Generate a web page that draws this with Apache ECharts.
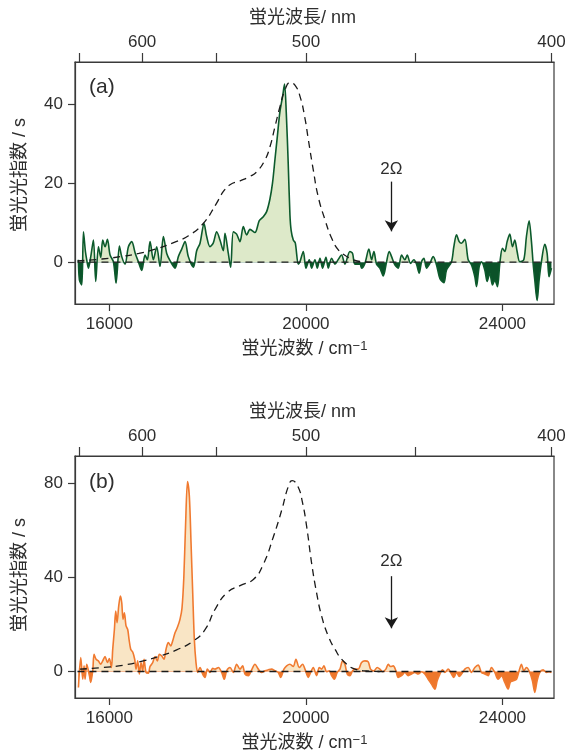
<!DOCTYPE html>
<html>
<head>
<meta charset="utf-8">
<script src="https://cdn.jsdelivr.net/npm/echarts@6/dist/echarts.min.js"></script>
<style>
html,body{margin:0;padding:0;background:#fff;}
#chart{width:574px;height:753px;}
</style>
</head>
<body>
<div id="chart"></div>
<script>
// ---------- data ----------
// Panel (a): wavenumber (cm^-1) and signal (s)
const A_WN = [15370,15390,15438,15472,15512,15539,15573,15621,15675,15722,15777,15824,15865,15912,15960,16014,16082,16136,16204,16251,16319,16387,16455,16523,16590,16658,16726,16773,16828,16895,16963,17031,17099,17167,17234,17336,17404,17472,17540,17607,17709,17777,17845,17926,17980,18048,18116,18184,18251,18319,18353,18421,18468,18523,18590,18658,18726,18794,18862,18963,19051,19133,19201,19268,19320,19370,19420,19470,19526,19565,19600,19640,19675,19700,19743,19784,19845,
19879,19947,20001,20069,20116,20184,20232,20286,20340,20408,20455,20523,20591,20659,20726,20794,20896,20950,20998,21100,21133,21201,21282,21337,21384,21438,21506,21574,21642,21696,21744,21811,21879,21947,22015,22062,22130,22198,22252,22306,22354,22401,22455,22523,22591,22659,22727,22808,22862,22964,23011,23066,23120,23167,23235,23303,23371,23439,23472,23527,23574,23642,23689,23743,23798,23845,23899,23947,24001,24049,24096,24150,24205,24252,24299,24354,24435,24489,24543,24591,24625,24659,24706,24747,24794,24862,24910,24950,24998];
const A_CNT = [0.6,-4.5,-5.8,7.7,2.7,0.6,-1.5,1.4,5.6,-4.9,3.9,1.2,5.6,3.9,5.8,1.8,0.1,-5.3,4.1,1.4,-0.5,3.9,5.2,2.4,0.1,-2.1,1.8,0.6,5.2,0.6,3.9,-1.1,6.5,2.2,0.4,-1.5,1.4,3.3,5.2,1.4,-1.3,2.9,4.8,9.8,6.5,3.9,4.9,7.7,5.6,2.9,7.3,2.2,-1.3,7.7,7.1,5.2,9.0,6.9,8.3,7.5,10.5,11.5,12.8,16.0,20.0,26.0,32.0,38.0,42.0,45.1,38.0,25.0,12.0,8.0,5.6,4.9,-0.5,
0.1,2.7,-1.5,0.6,-1.5,0.6,-1.5,1.0,-1.5,1.2,-1.5,1.0,-0.5,0.7,1.8,-0.5,2.7,2.2,-0.5,-0.5,-1.5,-0.3,3.3,0.6,2.7,-0.5,-1.5,-3.5,0.1,2.7,1.4,-0.7,-1.5,1.8,0.6,1.8,-0.3,0.6,-0.5,-2.8,0.1,1.0,-1.5,-0.3,1.4,-0.7,-4.1,-5.2,-2.0,0.1,3.9,6.9,5.2,4.8,5.8,0.6,-0.7,-3.7,-6.2,-1.1,0.1,-2.0,-4.9,-2.8,-5.8,-4.5,-6.2,-0.3,3.5,2.7,5.2,7.1,3.9,5.6,2.7,0.1,0.6,6.5,10.5,5.2,-0.3,-4.5,-9.7,-4.5,0.1,4.5,2.2,-3.7,-1.5];
// Panel (a): reference spectrum (dashed)
const A_REF_WN = [15350,15850,16230,16600,16960,17320,17610,17910,18180,18320,18455,18660,18860,19000,19167,19270,19370,19472,19574,19680,19780,19880,19980,20050,20150,20250,20390,20520,20660,20800,20960,21170,21400];
const A_REF = [0.3,0.8,1.4,2.2,3.4,5.0,6.7,9.8,14.9,17.9,19.6,20.6,21.7,22.9,25.9,29.3,34.3,39.4,43.6,45.5,44.8,42.0,36.5,31.0,23.4,16.6,10.7,6.2,3.1,1.7,0.6,0.1,0];

// Panel (b)
const B_WN = [15370,15417,15458,15485,15505,15539,15593,15620,15661,15688,15729,15776,15824,15864,15912,15959,16000,16041,16068,16102,16129,16156,16190,16224,16251,16278,16305,16339,16373,16400,16434,16475,16515,16542,16576,16610,16644,16678,16705,16746,16793,16827,16881,16929,16976,17017,17065,17112,17153,17200,17248,17288,17336,17383,17437,17478,17515,17550,17590,17628,17662,17696,17729,17763,17797,17845,17899,17946,17994,18048,18102,18150,18218,18285,18339,18387,18455,18523,18590,18658,18712,18760,18828,18895,18963,19031,19099,19167,19235,19302,19370,19438,19485,19553,19608,19675,19743,19797,19865,
19933,19981,20049,20096,20150,20218,20272,20320,20367,20421,20476,20523,20577,20638,20693,20747,20794,20842,20896,20950,20998,21066,21133,21201,21269,21316,21384,21452,21506,21560,21628,21676,21723,21777,21832,21879,21947,22015,22083,22150,22218,22286,22354,22421,22489,22557,22625,22672,22727,22781,22828,22896,22964,23011,23066,23120,23167,23235,23303,23371,23439,23506,23574,23642,23710,23777,23845,23913,23981,24049,24116,24164,24218,24286,24340,24388,24435,24489,24557,24611,24659,24706,24760,24828,24896,24950,24998];
const B_CNT = [-6.8,5.9,-3.3,2.4,-3.3,3.1,-1.8,-4.7,0.3,7.3,5.2,4.5,3.1,4.5,6.4,3.8,5.5,1.7,9.5,17.9,25.7,20.8,27.9,32.1,29.3,22.2,25.0,19.4,17.9,13.7,9.5,8.3,5.2,1.0,4.5,-1.1,3.8,0.3,5.2,-0.4,-0.7,2.1,3.8,6.4,4.5,7.3,6.6,5.2,9.5,12.3,10.9,13.0,16.5,18.7,22.2,27.0,40.0,62.0,80.9,74.5,54.7,33.5,13.7,3.8,-0.4,1.7,-1.1,-2.5,1.0,-0.4,1.3,1.0,1.7,-0.4,-3.3,0.3,1.7,-0.4,3.1,1.0,2.4,-1.1,-1.8,0.7,3.1,1.0,-0.4,0.3,0.7,1.0,0.3,-0.4,-2.5,1.0,2.4,3.1,2.1,5.2,1.7,
3.1,1.0,-2.5,-0.4,1.7,-1.8,1.7,1.0,2.4,-0.1,0.3,-1.8,-3.3,-0.4,1.0,4.5,3.1,-1.1,-1.8,0.3,1.0,1.0,3.8,4.5,4.1,1.0,0.3,1.7,1.0,-0.1,1.0,3.1,2.1,2.4,0.3,-2.5,-1.8,-0.4,-1.8,-1.1,-0.4,-1.1,-0.1,-1.1,-3.3,-5.4,-7.5,-4.0,-1.1,0.7,-0.4,1.0,-1.1,-2.5,-0.4,-2.1,-1.1,1.0,1.7,-0.4,1.7,2.7,-0.4,-1.1,-1.8,1.7,-0.4,-3.3,-1.8,-4.7,-7.5,-4.4,-4.0,-3.3,0.3,3.1,0.3,1.7,-0.4,-4.0,-8.9,-4.0,-0.4,0.7,-0.4,-0.1,-0.4];
const B_REF_WN = [15400,15880,16290,16690,17030,17370,17710,17950,18150,18390,18660,18930,19130,19340,19510,19640,19720,19840,19930,20015,20116,20218,20320,20455,20591,20760,21000,21235,21500];
const B_REF = [1.0,1.7,2.7,4.5,6.6,9.2,13.0,17.9,26.4,33.5,36.6,39.2,45.5,57.5,68.9,78.7,81.3,78.7,72.0,61.8,46.2,33.5,23.6,15.1,9.5,4.5,1.0,0.2,0];

// axes / ticks
const X_RANGE = [15300, 25050];
const X_TICKS = [16000, 20000, 24000];
const NM_TICKS = [650, 600, 550, 500, 450, 400];
const NM_LABELS = [600, 500, 400];
const A_Y_RANGE = [-10.6, 50.7];
const A_Y_TICKS = [0, 20, 40];
const B_Y_RANGE = [-11.3, 91.8];
const B_Y_TICKS = [0, 40, 80];
const ARROW_WN = 21740;
const A_ARROW = [20.4, 7.8], A_ARROW_TEXT = 23.6;
const B_ARROW = [40.6, 18.4], B_ARROW_TEXT = 46.8;

// ---------- chart ----------
const FONT = '"Liberation Sans", "Noto Sans CJK JP", sans-serif';
const TXT = '#2e2e2e';
const AX = '#3a3a3a';
const zip = (xs, ys) => xs.map((x, i) => [x, ys[i]]);
const toWn = nm => 1e7 / nm;

const GREEN_LINE = '#0c5a2c', GREEN_LIGHT = '#dde9c9', GREEN_DARK = '#0b5229';
const ORANGE_LINE = '#f07a30', ORANGE_LIGHT = '#f9e5c5', ORANGE_DARK = '#ee772b';

function bottomAxis(gi) {
  return {
    gridIndex: gi, type: 'value', position: 'bottom', min: X_RANGE[0], max: X_RANGE[1],
    axisLine: { onZero: false, lineStyle: { color: AX, width: 1.2 } },
    axisTick: { customValues: X_TICKS, length: 7, lineStyle: { color: AX, width: 1.2 } },
    axisLabel: { customValues: X_TICKS, margin: 12, fontSize: 17, color: TXT, fontFamily: FONT,
      formatter: v => String(v) },
    splitLine: { show: false },
    name: '蛍光波数 / cm{sup|−1}', nameLocation: 'middle', nameGap: 36,
    nameTextStyle: { fontSize: 18, color: TXT, fontFamily: FONT, padding: [0, 20, 0, 0],
      rich: { sup: { fontSize: 13, verticalAlign: 'top', color: TXT, fontFamily: FONT } } }
  };
}
function topAxis(gi) {
  return {
    gridIndex: gi, type: 'value', position: 'top', min: X_RANGE[0], max: X_RANGE[1],
    axisLine: { onZero: false, lineStyle: { color: AX, width: 1.2 } },
    axisTick: { customValues: NM_TICKS.map(toWn), length: 9, lineStyle: { color: AX, width: 1.2 } },
    axisLabel: { customValues: NM_LABELS.map(toWn), margin: 11, fontSize: 17, color: TXT, fontFamily: FONT,
      formatter: v => String(Math.round(1e7 / v)) },
    splitLine: { show: false },
    name: '蛍光波長/ nm', nameLocation: 'middle', nameGap: 35,
    nameTextStyle: { fontSize: 18, color: TXT, fontFamily: FONT, padding: [0, 24, 0, 0] }
  };
}
function leftAxis(gi, range, ticks, shift) {
  return {
    gridIndex: gi, type: 'value', min: range[0], max: range[1],
    axisLine: { show: true, onZero: false, lineStyle: { color: AX, width: 1.2 } },
    axisTick: { customValues: ticks, length: 7, lineStyle: { color: AX, width: 1.2 } },
    axisLabel: { customValues: ticks, margin: 12, fontSize: 17, color: TXT, fontFamily: FONT,
      formatter: v => String(v) },
    splitLine: { show: false },
    name: '蛍光光指数 / s', nameLocation: 'middle', nameGap: 46,
    nameTextStyle: { fontSize: 18, color: TXT, fontFamily: FONT, padding: [0, 0, 0, shift] }
  };
}
function panelSeries(xi, yi, wn, cnt, refWn, ref, lineColor, arrow, arrowText) {
  return [
    { type: 'line', xAxisIndex: xi, yAxisIndex: yi, data: zip(wn, cnt), showSymbol: false, smooth: 0.3,
      lineStyle: { width: 0, opacity: 0 }, areaStyle: { opacity: 1 }, z: 1, silent: true },
    { type: 'line', xAxisIndex: xi, yAxisIndex: yi, data: zip(wn, cnt), showSymbol: false, smooth: 0.3,
      lineStyle: { width: 1.6, color: lineColor }, itemStyle: { color: lineColor }, z: 2, silent: true },
    { type: 'line', xAxisIndex: xi, yAxisIndex: yi, data: [[15350, 0], [25000, 0]], showSymbol: false,
      lineStyle: { width: 1.3, color: '#1a1a1a', type: [7, 5] }, z: 3, silent: true,
      markLine: { silent: true, symbol: ['none', 'arrow'], symbolSize: [10, 11],
        lineStyle: { color: '#1a1a1a', type: 'solid', width: 1.3 }, label: { show: false },
        data: [[{ coord: [ARROW_WN, arrow[0]] }, { coord: [ARROW_WN, arrow[1]] }]] },
      markPoint: { symbol: 'rect', symbolSize: 1, itemStyle: { color: 'rgba(0,0,0,0)' },
        label: { show: true, position: 'inside', formatter: '2Ω', fontSize: 17, color: TXT, fontFamily: FONT },
        data: [{ coord: [ARROW_WN, arrowText] }] } },
    { type: 'line', xAxisIndex: xi, yAxisIndex: yi, data: zip(refWn, ref), showSymbol: false, smooth: 0.5,
      lineStyle: { width: 1.3, color: '#1a1a1a', type: [7, 5] }, z: 3, silent: true }
  ];
}

const chart = echarts.init(document.getElementById('chart'), null, { renderer: 'canvas', width: 574, height: 753 });
chart.setOption({
  animation: false,
  backgroundColor: '#fff',
  grid: [
    { left: 75, top: 62, width: 479, height: 242, show: true, borderColor: AX, borderWidth: 1.2, backgroundColor: 'transparent' },
    { left: 75, top: 456, width: 479, height: 243, show: true, borderColor: AX, borderWidth: 1.2, backgroundColor: 'transparent' }
  ],
  xAxis: [bottomAxis(0), topAxis(0), bottomAxis(1), topAxis(1)],
  yAxis: [leftAxis(0, A_Y_RANGE, A_Y_TICKS, 16), leftAxis(1, B_Y_RANGE, B_Y_TICKS, 4)],
  visualMap: [
    { show: false, type: 'piecewise', seriesIndex: 0, dimension: 1,
      pieces: [{ gte: -1000, lt: 0, color: GREEN_DARK }, { gte: 0, lte: 1000, color: GREEN_LIGHT }] },
    { show: false, type: 'piecewise', seriesIndex: 4, dimension: 1,
      pieces: [{ gte: -1000, lt: 0, color: ORANGE_DARK }, { gte: 0, lte: 1000, color: ORANGE_LIGHT }] }
  ],
  series: [
    ...panelSeries(0, 0, A_WN, A_CNT, A_REF_WN, A_REF, GREEN_LINE, A_ARROW, A_ARROW_TEXT),
    ...panelSeries(2, 1, B_WN, B_CNT, B_REF_WN, B_REF, ORANGE_LINE, B_ARROW, B_ARROW_TEXT)
  ],
  graphic: [
    { type: 'text', left: 89, top: 77, style: { text: '(a)', fontSize: 21, fill: TXT, fontFamily: FONT } },
    { type: 'text', left: 89, top: 472, style: { text: '(b)', fontSize: 21, fill: TXT, fontFamily: FONT } }
  ]
});
</script>
</body>
</html>
